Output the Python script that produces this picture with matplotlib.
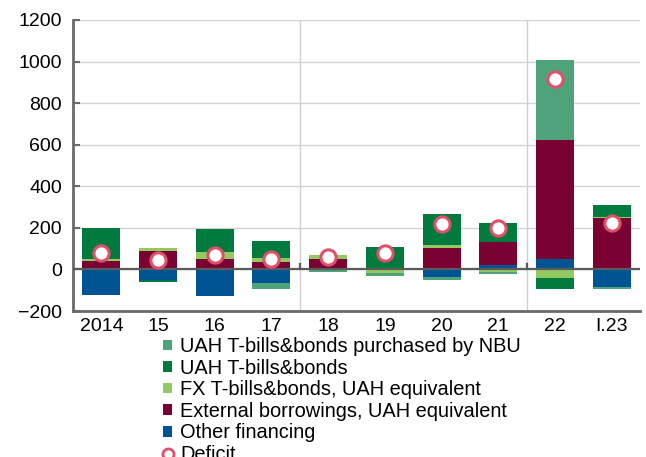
import matplotlib
matplotlib.use("Agg")
import matplotlib.pyplot as plt
from matplotlib.patches import Patch
from matplotlib.lines import Line2D
import numpy as np

plt.rcParams['font.family'] = ['Liberation Sans', 'DejaVu Sans']

periods = ['2014', '15', '16', '17', '18', '19', '20', '21', '22', 'I.23']
other_financing = [-124, -51, -128, -67, 5, 0, -35, 20, 51, -86]
external_borrowings = [41, 88, 51, 35, 46, 0, 102, 111, 570, 248]
fx_bills = [11, 16, 35, 20, 19, -18, 15, -12, -39, 5]
uah_bills = [148, -8, 109, 82, -5, 110, 150, 92, -53, 59]
uah_bills_nbu = [0, 0, 0, -26, -8, -12, -14, -10, 385, -8]
deficit = [78, 46, 70, 49, 59, 81, 218, 199, 917, 223]

series = [
    ('Other financing', other_financing, '#005493'),
    ('External borrowings, UAH equivalent', external_borrowings, '#7a0233'),
    ('FX T-bills&bonds, UAH equivalent', fx_bills, '#92c962'),
    ('UAH T-bills&bonds', uah_bills, '#007a3e'),
    ('UAH T-bills&bonds purchased by NBU', uah_bills_nbu, '#4ea37a'),
]

fig = plt.figure(figsize=(6.46, 4.57), dpi=100)
ax = fig.add_axes([73 / 646, 1 - 311 / 457, 567 / 646, 291 / 457])

x = np.arange(len(periods))
pos_base = np.zeros(len(periods))
neg_base = np.zeros(len(periods))
for name, vals, color in series:
    v = np.array(vals, dtype=float)
    pos = np.where(v > 0, v, 0)
    neg = np.where(v < 0, v, 0)
    ax.bar(x, pos, bottom=pos_base, width=0.67, color=color, linewidth=0, zorder=3)
    ax.bar(x, neg, bottom=neg_base, width=0.67, color=color, linewidth=0, zorder=3)
    pos_base += pos
    neg_base += neg

ax.plot(x, deficit, linestyle='none', marker='o', markersize=11,
        markerfacecolor='white', markeredgecolor='#e0506a', markeredgewidth=2.2, zorder=5)

ax.set_xlim(-0.5, 9.5)
ax.set_ylim(-200, 1200)
ax.set_yticks(range(-200, 1201, 200))
ax.set_xticks(x)
ax.set_xticklabels(periods)
ax.yaxis.grid(True, color='#d3d3d3', linewidth=1.0, zorder=0)
ax.set_axisbelow(True)
ax.axhline(0, color='#5a5a5a', linewidth=1.6, zorder=4)
for sep in (3.5, 7.5):
    ax.axvline(sep, color='#cfcfcf', linewidth=1.0, zorder=1)
    ax.plot([sep, sep], [0, 28], color='#5a5a5a', linewidth=1.6, zorder=4)

for side in ('top', 'right'):
    ax.spines[side].set_visible(False)
for side in ('left', 'bottom'):
    ax.spines[side].set_color('#6a6a6a')
    ax.spines[side].set_linewidth(2.0)
ax.tick_params(axis='y', direction='in', length=5, width=1.5, color='#6a6a6a',
               labelsize=14, pad=8)
ax.tick_params(axis='x', length=0, labelsize=14, pad=5)

handles = [Patch(facecolor=c, edgecolor='none') for _, _, c in series[::-1]]
labels = [n for n, _, _ in series[::-1]]
handles.append(Line2D([], [], linestyle='none', marker='o', markersize=8,
                      markerfacecolor='white', markeredgecolor='#e0506a',
                      markeredgewidth=2.0))
labels.append('Deficit')
fig.legend(handles, labels, loc='upper left', bbox_to_anchor=(163 / 646, 1 - 337 / 457),
           frameon=False, fontsize=14.4, handlelength=0.45, handleheight=0.45,
           handletextpad=0.4, labelspacing=0.13, borderaxespad=0, borderpad=0)

fig.savefig('out.png', dpi=100)
